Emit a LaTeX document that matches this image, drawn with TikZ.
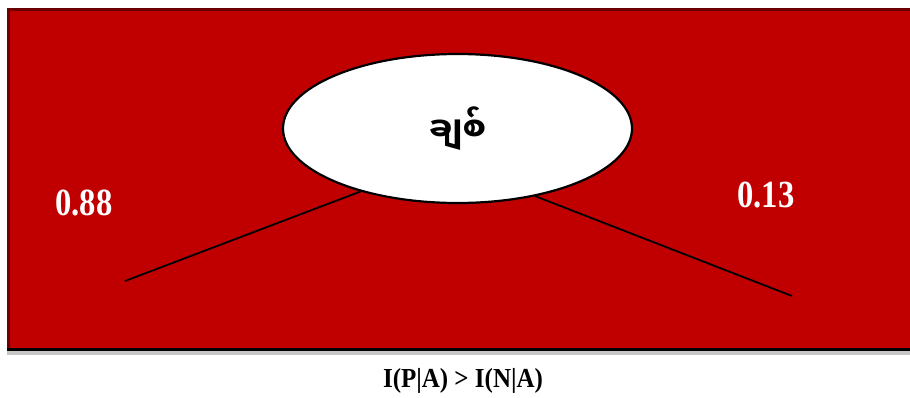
\documentclass[tikz,border=0pt]{standalone}
\usepackage{fontspec}
\setmainfont{Liberation Serif}
\newfontfamily\myan[Script=Myanmar]{Noto Sans Myanmar UI}
\usetikzlibrary{shapes.geometric}
\definecolor{bgred}{HTML}{C00000}
\definecolor{darkred}{HTML}{6A0000}
\newcommand{\tallnum}[1]{\scalebox{1.02}[1.2]{#1}}
\tikzset{
  numlabel/.style={text=white, font=\bfseries\fontsize{32}{36}\selectfont, inner sep=0pt},
  branch/.style={draw=black, line width=1.8pt},
  bubble/.style={ellipse, draw=black, line width=2.2pt, fill=white, minimum width=349pt, minimum height=149pt, inner sep=0pt}
}
\begin{document}
\begin{tikzpicture}[x=1pt,y=-1pt]
\useasboundingbox (0,0) rectangle (910,397);
% background panel
\fill[gray!45] (7,349) rectangle (910,355);
\fill[bgred] (7,8) rectangle (910,349);
\draw[darkred, line width=2.5pt] (8.25,349) -- (8.25,9.25) -- (910,9.25);
\draw[black, line width=3pt] (7,349.5) -- (910,349.5);
% ellipse
\node[bubble] (e) at (457.5,128.5) {\myan\bfseries\fontsize{33}{40}\selectfont ချစ်};
% branches
\coordinate (lend) at (125,281);
\coordinate (rend) at (792,296);
\draw[branch] (e.213) -- (lend);
\draw[branch] (e.319) -- (rend);
% labels
\node[numlabel] (l88) at (84,203) {\tallnum{0.88}};
\node[numlabel] (l13) at (766,195) {\tallnum{0.13}};
% caption
\node[font=\bfseries\fontsize{25}{28}\selectfont, inner sep=0pt] (cap) at (463,381) {\scalebox{1}[1.1]{I(P|A) > I(N|A)}};
\end{tikzpicture}
\end{document}
